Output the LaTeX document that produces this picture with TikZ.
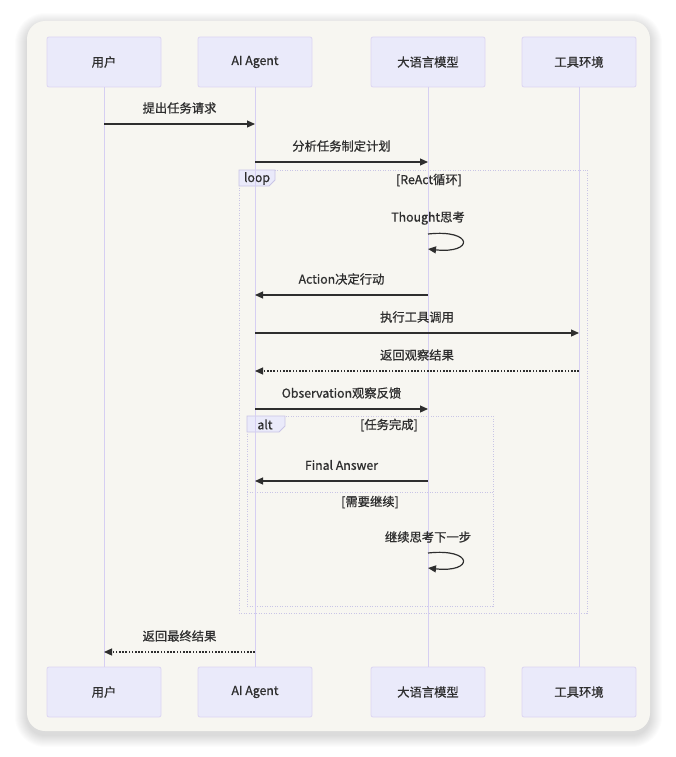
\documentclass[tikz,border=0pt]{standalone}
\usepackage{fontspec}
\setmainfont{Noto Sans CJK SC}[RawFeature={embolden=0.8}]
\usetikzlibrary{arrows.meta}
\definecolor{cardbg}{HTML}{F7F6F1}
\definecolor{actorfill}{HTML}{EAEAFA}
\definecolor{actorline}{HTML}{DCD6F2}
\definecolor{lifec}{HTML}{D6CFF2}
\definecolor{ink}{HTML}{2E2E2E}
\definecolor{framec}{HTML}{C9C5E6}
\tikzset{
  actor/.style={draw=actorline, fill=actorfill, line width=0.8pt, rounded corners=2pt,
    minimum width=114pt, minimum height=50pt, text=ink},
  life/.style={draw=lifec, line width=1pt},
  msg/.style={draw=ink, line width=1.2pt, -{Triangle[length=8pt,width=7pt]}},
  rmsg/.style={msg, dash pattern=on 1.6pt off 1.6pt},
  lbl/.style={text=ink, inner sep=0pt},
  frm/.style={draw=framec, line width=0.9pt, dash pattern=on 1pt off 1.5pt},
  tab/.style={draw=framec, fill=actorfill, line width=0.8pt},
}
\begin{document}
\begin{tikzpicture}[x=1pt,y=-1pt,font=\fontsize{12.3}{14}\selectfont]
\fill[white] (0,0) rectangle (676,757);
\useasboundingbox (0,0) rectangle (676,757);
% shadow
\foreach \i in {1,...,12}{
  \fill[black, opacity=0.011, rounded corners={18+\i}] (27-\i,21-\i+4) rectangle (650+\i,731+\i+4);
}
\fill[cardbg, rounded corners=18] (27,21) rectangle (650,731);

% frames
\draw[frm] (239,170) rectangle (587,613);
\draw[tab] (239,170) -- (275,170) -- (275,180) -- (269,186) -- (239,186) -- cycle;
\node[lbl] (looplbl) at (257,178.5) {loop};
\node[lbl] (loopcond) at (429,180) {[ReAct循环]};
\draw[frm] (247,416) rectangle (493,606);
\draw[tab] (247,416) -- (285,416) -- (285,426) -- (279,432) -- (247,432) -- cycle;
\node[lbl] (altlbl) at (265,424.5) {alt};
\node[lbl] (altc1) at (389,425) {[任务完成]};
\draw[frm] (247,492) -- (493,492);
\node[lbl] (altc2) at (370,502) {[需要继续]};

% actors
\node[actor] (u1) at (104,62) {用户};
\node[actor] (a1) at (255,62) {AI Agent};
\node[actor] (l1) at (428,62) {大语言模型};
\node[actor] (t1) at (579,62) {工具环境};
\node[actor] (u2) at (104,692) {用户};
\node[actor] (a2) at (255,692) {AI Agent};
\node[actor] (l2) at (428,692) {大语言模型};
\node[actor] (t2) at (579,692) {工具环境};

\draw[life] (u1.south) -- (u2.north);
\draw[life] (a1.south) -- (a2.north);
\draw[life] (l1.south) -- (l2.north);
\draw[life] (t1.south) -- (t2.north);

% messages
\draw[msg] (u1.center |- 0,124) -- node[lbl, midway, yshift=16pt] {提出任务请求} (a1.center |- 0,124);
\draw[msg] (a1.center |- 0,162) -- node[lbl, midway, yshift=16pt] {分析任务制定计划} (l1.center |- 0,162);
\node[lbl] (thought) at (428,218) {Thought思考};
\draw[msg] (l1.center |- 0,234) .. controls (474,229) and (474,254) .. (l1.center |- 0,249);
\draw[msg] (l1.center |- 0,295) -- node[lbl, midway, yshift=16pt] {Action决定行动} (a1.center |- 0,295);
\draw[msg] (a1.center |- 0,333) -- node[lbl, midway, yshift=16pt] {执行工具调用} (t1.center |- 0,333);
\draw[rmsg] (t1.center |- 0,371) -- node[lbl, midway, yshift=16pt] {返回观察结果} (a1.center |- 0,371);
\draw[msg] (a1.center |- 0,409) -- node[lbl, midway, yshift=16pt] {Observation观察反馈} (l1.center |- 0,409);
\draw[msg] (l1.center |- 0,481) -- node[lbl, midway, yshift=16pt] {Final Answer} (a1.center |- 0,481);
\node[lbl] (cont) at (428,537) {继续思考下一步};
\draw[msg] (l1.center |- 0,553) .. controls (474,548) and (474,573) .. (l1.center |- 0,568);
\draw[rmsg] (a1.center |- 0,652) -- node[lbl, midway, yshift=16pt] {返回最终结果} (u1.center |- 0,652);
\end{tikzpicture}
\end{document}
